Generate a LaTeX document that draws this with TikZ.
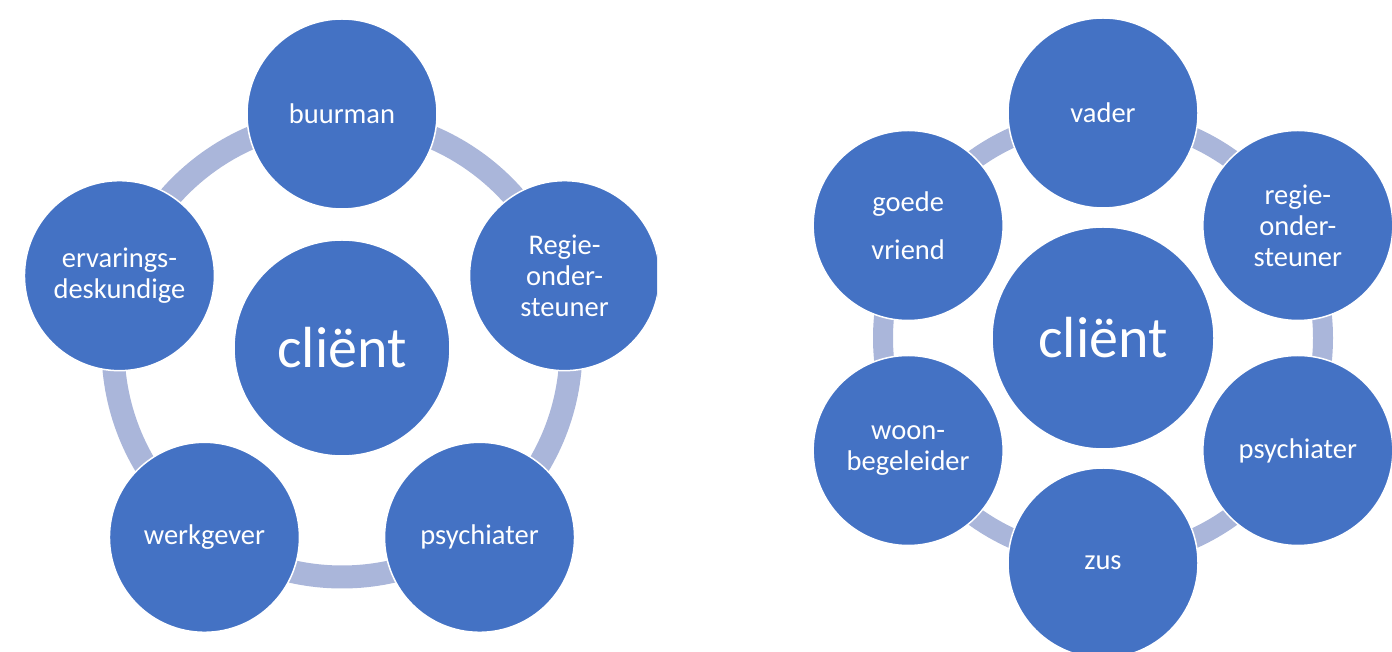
\documentclass[tikz,border=0pt]{standalone}
\usepackage{fontspec}
\setmainfont{Carlito}
\usepackage{tikz}
\usetikzlibrary{positioning, calc}
\definecolor{smartblue}{HTML}{4472C4}
\definecolor{ringblue}{HTML}{AAB6DA}

\begin{document}
\begin{tikzpicture}[x=1pt, y=1pt,
  member/.style={circle, fill=smartblue, draw=white, line width=1.5pt, minimum size=190pt, inner sep=0pt,
    align=center, text=white, font=\fontsize{28.5}{31}\selectfont},
  core/.style={member, font=\fontsize{58}{60}\selectfont},
  ring/.style={draw=ringblue, line width=23pt}]
\useasboundingbox (0,0) rectangle (1392,652);
% left network: five around the client
\coordinate (L) at (342,304);
\draw[ring] (L) circle (229pt);
\begin{scope}
\clip (0,0) rectangle (657,652);
\node[core, minimum size=216pt] (clientL) at (L) {cliënt};
\node[member] (buurman) at ($(L)+(90:234pt)$) {buurman};
\node[member] (regieL) at ($(L)+(18:234pt)$) {Regie-\\onder-\\steuner};
\node[member] (psychiaterL) at ($(L)+(-54:234pt)$) {psychiater};
\node[member] (werkgever) at ($(L)+(-126:234pt)$) {werkgever};
\node[member] (ervaring) at ($(L)+(162:234pt)$) {ervarings-\\deskundige};
\end{scope}
% right network: six around the client
\coordinate (R) at (1103,314);
\draw[ring, line width=20pt] (R) circle (220pt);
\node[core, minimum size=222pt] (clientR) at (R) {cliënt};
\node[member] (vader) at ($(R)+(90:225pt)$) {vader};
\node[member] (regieR) at ($(R)+(30:225pt)$) {regie-\\onder-\\steuner};
\node[member] (psychiaterR) at ($(R)+(-30:225pt)$) {psychiater};
\node[member] (zus) at ($(R)+(-90:225pt)$) {zus};
\node[member] (woon) at ($(R)+(-150:225pt)$) {woon-\\begeleider};
\node[member] (vriend) at ($(R)+(150:225pt)$) {goede\\[17pt]vriend};
\end{tikzpicture}
\end{document}
